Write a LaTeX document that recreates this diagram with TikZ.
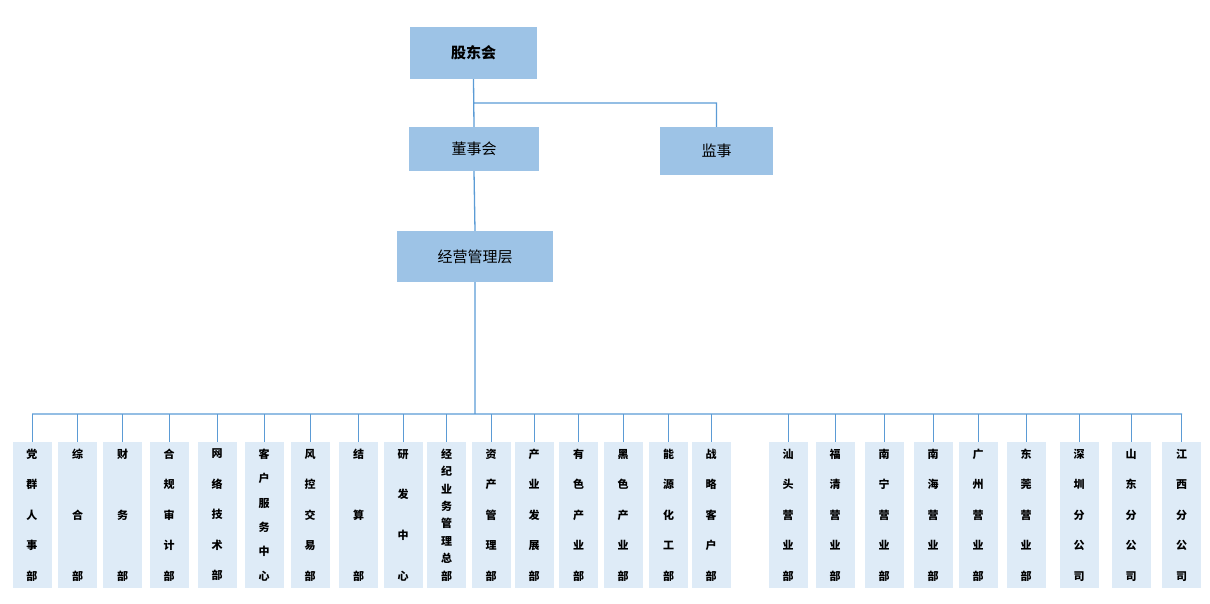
\documentclass[tikz,border=0pt]{standalone}
\usepackage{fontspec}
\setmainfont{Noto Sans CJK SC}
\definecolor{topblue}{HTML}{9DC3E6}
\definecolor{lowblue}{HTML}{DEEBF7}
\definecolor{linkblue}{HTML}{5B9BD5}
\tikzset{
  topbox/.style = {fill = topblue, inner sep = 0pt, font = \fontsize{15}{18}\selectfont},
  deptbox/.style = {fill = lowblue, inner sep = 0pt, minimum width = 39pt, minimum height = 146pt, align = center},
  link/.style = {draw = linkblue, line width = 1.3pt}
}
\begin{document}
\begin{tikzpicture}[x = 1pt, y = -1pt]
	\useasboundingbox (0,0) rectangle (1210,604);

	\node[topbox, minimum width = 127pt, minimum height = 52pt, font = \bfseries\fontsize{15}{18}\selectfont] (gdh) at (473.5,53) {股东会};
	\node[topbox, minimum width = 130pt, minimum height = 44pt] (dsh) at (474,149) {董事会};
	\node[topbox, minimum width = 113pt, minimum height = 48pt] (js) at (716.5,151) {监事};
	\node[topbox, minimum width = 156pt, minimum height = 51pt] (jy) at (475,256.5) {经营管理层};

	\coordinate (fork) at (474,103);
	\coordinate (busL) at (32,414);
	\coordinate (busM) at (475,414);
	\coordinate (busR) at (1182,414);

	\draw[link] (gdh.south) -- (dsh.north)
		(fork) -| (js.north)
		(dsh.south) -- (jy.north)
		(jy.south) -- (busM)
		(busL) -- (busR);

	% departments: centre x / line gap / text
	\foreach \cx/\gap/\txt [count = \i] in {
		32/30.5/{党\\群\\人\\事\\部}, 77.5/61/{综\\合\\部}, 122.5/61/{财\\务\\部},
		169/30.5/{合\\规\\审\\计\\部}, 217/30.5/{网\\络\\技\\术\\部},
		264/24.4/{客\\户\\服\\务\\中\\心}, 310/30.5/{风\\控\\交\\易\\部},
		358.5/61/{结\\算\\部}, 403/40.7/{研\\发\\中\\心},
		446.5/17.4/{经\\纪\\业\\务\\管\\理\\总\\部}, 491/30.5/{资\\产\\管\\理\\部},
		534/30.5/{产\\业\\发\\展\\部}, 578.5/30.5/{有\\色\\产\\业\\部},
		623/30.5/{黑\\色\\产\\业\\部}, 668.5/30.5/{能\\源\\化\\工\\部},
		711/30.5/{战\\略\\客\\户\\部}, 788/30.5/{汕\\头\\营\\业\\部},
		835/30.5/{福\\清\\营\\业\\部}, 884/30.5/{南\\宁\\营\\业\\部},
		933/30.5/{南\\海\\营\\业\\部}, 978/30.5/{广\\州\\营\\业\\部},
		1026/30.5/{东\\莞\\营\\业\\部}, 1079/30.5/{深\\圳\\分\\公\\司},
		1131/30.5/{山\\东\\分\\公\\司}, 1181.5/30.5/{江\\西\\分\\公\\司}}
	{
		\node[deptbox, font = \bfseries\fontsize{11}{\gap}\selectfont] (d\i) at (\cx,515) {\txt};
		\draw[draw = linkblue, line width = 0.6pt] (d\i.north) -- (\cx,414);
	}
\end{tikzpicture}
\end{document}
